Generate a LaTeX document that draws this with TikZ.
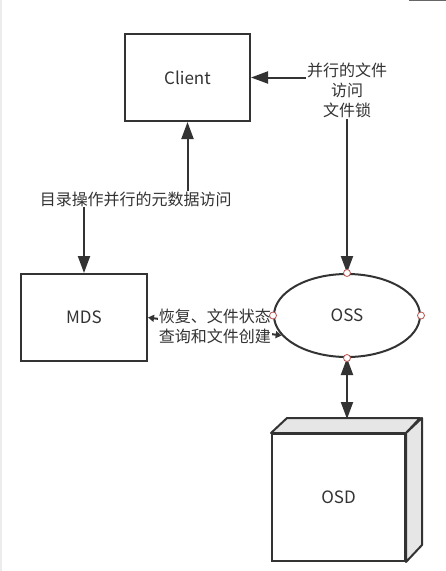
\documentclass[tikz,border=0pt]{standalone}
\usepackage{fontspec}
\setmainfont{Noto Sans CJK SC}
\usetikzlibrary{arrows.meta,shapes.geometric,positioning}
\definecolor{ink}{HTML}{333333}
\definecolor{side}{HTML}{E6E6E6}
\definecolor{port}{HTML}{B85450}

\begin{document}
\begin{tikzpicture}[x=1pt,y=-1pt,color=ink,line width=2pt,
    box/.style={draw,rectangle,fill=white,minimum width=125pt,
      minimum height=87pt,font=\fontsize{17}{20}\selectfont},
    lbl/.style={fill=white,inner sep=1pt,align=center,
      font=\fontsize{16}{20}\selectfont},
    big/.style={{Triangle[length=17pt,width=12pt]}-{Triangle[length=17pt,width=12pt]}},
    small/.style={{Triangle[length=6pt,width=7pt]}-{Triangle[length=6pt,width=7pt]}},
    port/.style={circle,draw=port,fill=white,line width=.8pt,
      minimum size=7pt,inner sep=0pt}]
  \useasboundingbox (0,0) rectangle (446,571);
  \draw[gray!15] (1,0) -- (1,571);
  \draw[line width=1.5pt,gray!80!black] (409,0.5) -- (446,0.5);

  \node[box] (client) at (187.5,77.5) {Client};
  \node[box,minimum width=126pt] (mds) at (84,317.5) {MDS};
  \node[ellipse,draw,minimum width=146pt,minimum height=83pt,
    font=\fontsize{17}{20}\selectfont] (oss) at (347,315.5) {OSS};

  \node[box,minimum width=133pt,minimum height=127pt] (osd) at (338.5,497.5) {OSD};
  \draw[fill=side,line join=round] (osd.north west) -- ++(16,-15) -- ++(133,0)
    -- (osd.north east) -- cycle;
  \draw[fill=side,line join=round] (osd.north east) -- ++(16,-15) -- ++(0,127)
    -- (osd.south east) -- cycle;
  \coordinate (osdback) at (347,419);

  \draw[big] (mds.north) -- (mds.north |- 0,199)
    -- node[lbl] (meta) {目录操作并行的元数据访问} (client.south |- 0,199)
    -- (client.south);
  \draw[big] (oss.north) |- node[lbl,pos=.5,yshift=-13pt] (lock)
    {并行的文件\\访问\\文件锁} (client.east);
  \draw[small] (mds.east) -- node[lbl] (recov)
    {恢复、文件状态\\查询和文件创建} (oss.197);
  \draw[big] (oss.south) -- (osdback);

  \node[port] (pn) at (oss.north) {};
  \node[port] (ps) at (oss.south) {};
  \node[port] (pw) at (oss.west) {};
  \node[port] (pe) at (oss.east) {};
\end{tikzpicture}
\end{document}
